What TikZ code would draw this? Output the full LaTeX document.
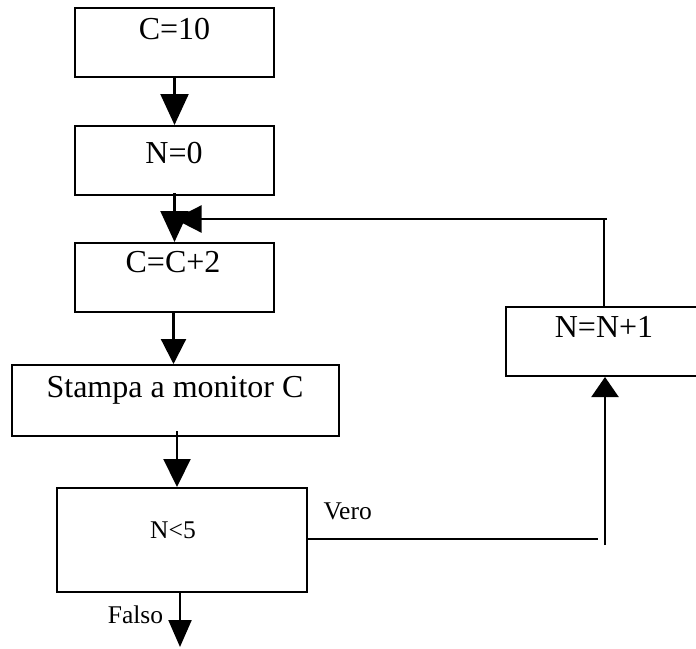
\documentclass[tikz,border=0pt]{standalone}
\usepackage{fontspec}
\setmainfont{Liberation Serif}
\usetikzlibrary{arrows.meta,calc}
\tikzset{
  box/.style={draw, line width=2pt, inner sep=0pt, rectangle},
  bigtext/.style={font=\fontsize{32}{38}\selectfont, anchor=base, inner sep=0pt},
  smalltext/.style={font=\fontsize{25.5}{30}\selectfont, anchor=base, inner sep=0pt},
  flow/.style={line width=2.2pt},
  thinflow/.style={line width=1.3pt},
  tipA/.style={-{Triangle[length=31pt,width=28pt]}},
  tipB/.style={-{Triangle[length=27pt,width=27pt]}},
  tipC/.style={-{Triangle[length=25pt,width=25pt]}},
  tipD/.style={-{Triangle[length=28pt,width=27pt]}},
  tipE/.style={-{Triangle[length=27pt,width=23pt]}},
  tipF/.style={-{Triangle[length=20pt,width=27pt]}},
}
\begin{document}
\begin{tikzpicture}[x=1pt,y=-1pt]
\useasboundingbox (0,0) rectangle (696,648);
% boxes
\node[box, minimum width=199pt, minimum height=69pt] (c10) at (174.5,42.5) {};
\node[box, minimum width=199pt, minimum height=69pt] (n0) at (174.5,160.5) {};
\node[box, minimum width=199pt, minimum height=69pt] (cc2) at (174.5,277.5) {};
\node[box, minimum width=327pt, minimum height=71pt] (stampa) at (175.5,400.5) {};
\node[box, minimum width=250pt, minimum height=104pt] (test) at (182,540) {};
\node[box, minimum width=214pt, minimum height=69pt] (inc) at (613,341.5) {};
% texts
\node[bigtext] (t1) at (174.5,39) {C=10};
\node[bigtext] (t2) at (174,163) {N=0};
\node[bigtext] (t3) at (173,272) {C=C+2};
\node[bigtext] (t4) at (175,397) {Stampa a monitor C};
\node[smalltext] (t5) at (173,538) {N<5};
\node[bigtext] (t6) at (604,337) {N=N+1};
\node[smalltext] (vero) at (347.7,519) {Vero};
\node[smalltext] (falso) at (135.5,623) {Falso};
% connectors
\draw[flow, tipA] (c10.south) -- (n0.north);
\draw[flow, tipA] ($(n0.south)+(0,-3)$) -- (cc2.north);
\coordinate (loopV) at (604,219);
\coordinate (loopR) at (607,219);
\draw[thinflow] (inc.north -| loopV) -- (loopV);
\draw[flow, tipB] (loopR) -- (cc2.north |- loopR);
\coordinate (s0) at ($(cc2.south)+(-1,0)$);
\draw[flow, tipC] (s0) -- (s0 |- stampa.north);
\coordinate (s1) at ($(stampa.south)+(1.5,-6)$);
\draw[flow, tipD] (s1) -- (s1 |- test.north);
\coordinate (fend) at (180,647);
\draw[flow, tipE] (fend |- test.south) -- (fend);
\coordinate (vh) at (598,539);
\draw[thinflow] (test.east |- vh) -- (vh);
\coordinate (vb) at (605,545);
\draw[flow, tipF] (vb) -- (vb |- inc.south);
\end{tikzpicture}
\end{document}
